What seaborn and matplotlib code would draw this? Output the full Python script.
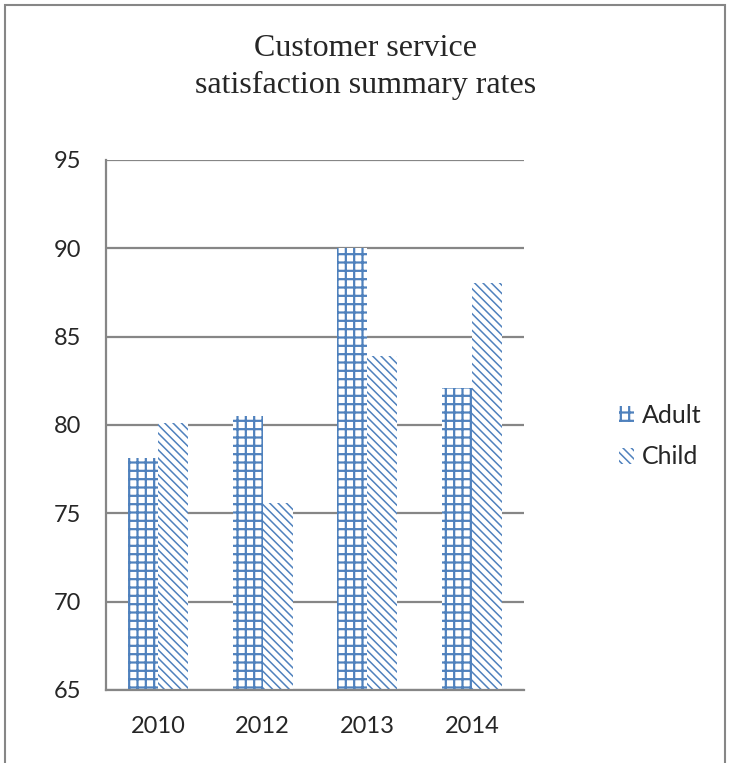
import numpy as np
import pandas as pd
import matplotlib
matplotlib.use('Agg')
import matplotlib.pyplot as plt
import seaborn as sns
from matplotlib.patches import Patch, Rectangle

years = ['2010', '2012', '2013', '2014']
adult = [78.15, 80.5, 90.0, 82.1]
child = [80.1, 75.6, 83.9, 88.05]
series = ['Adult', 'Child']

df = pd.DataFrame({
    'Year': years * 2,
    'Rate': adult + child,
    'Group': ['Adult'] * len(years) + ['Child'] * len(years),
})

sns.set_style('white')
plt.rcParams['font.family'] = ['Lato', 'DejaVu Sans']
plt.rcParams['hatch.linewidth'] = 1.6

blue = '#4F81BD'
grid_col = '#868686'
hatches = ['++', '\\\\\\\\']
hatch_lw = [1.6, 1.1]

fig = plt.figure(figsize=(7.33, 7.63), dpi=100)
ax = fig.add_axes([106 / 733, 1 - 690 / 763, (524 - 106) / 733, (690 - 160) / 763])

sns.barplot(data=df, x='Year', y='Rate', hue='Group', ax=ax,
            palette=['white', 'white'], width=0.575, gap=0, legend=False)

for cont, h, lw in zip(ax.containers, hatches, hatch_lw):
    for bar in cont:
        bar.set_hatch(h)
        bar.set_edgecolor(blue)
        bar.set_linewidth(0)
        if hasattr(bar, 'set_hatch_linewidth'):
            bar.set_hatch_linewidth(lw)

ax.set_ylim(65, 95)
ax.set_yticks(np.arange(65, 96, 5))
ax.set_xlim(-0.5, len(years) - 0.5)
ax.yaxis.grid(True, color=grid_col, linewidth=1.6)
ax.set_axisbelow(True)
ax.set_xlabel('')
ax.set_ylabel('')

for side in ['top', 'right']:
    ax.spines[side].set_visible(False)
for side in ['left', 'bottom']:
    ax.spines[side].set_color(grid_col)
    ax.spines[side].set_linewidth(1.6)

ax.set_xticks(np.arange(-0.5, len(years), 1.0), minor=True)
ax.tick_params(axis='x', which='major', length=0, pad=19, labelsize=17)
ax.tick_params(axis='x', which='minor', length=5, width=1.6, color=grid_col, direction='out')
ax.tick_params(axis='y', length=6, width=1.6, color=grid_col, direction='out', pad=12, labelsize=17)

legend_elements = [Patch(facecolor='white', edgecolor=blue, hatch=h, linewidth=0, label=s)
                   for s, h in zip(series, hatches)]
leg = fig.legend(handles=legend_elements, loc='center left',
                 bbox_to_anchor=(619 / 733, 1 - 436 / 763), frameon=False,
                 fontsize=18, handlelength=0.6, handleheight=0.6, handletextpad=0.3,
                 labelspacing=0.75, borderpad=0, borderaxespad=0)
for patch, lw in zip(leg.get_patches(), hatch_lw):
    if hasattr(patch, 'set_hatch_linewidth'):
        patch.set_hatch_linewidth(lw)

fig.text(366 / 733, 1 - 67 / 763, 'Customer service\nsatisfaction summary rates',
         ha='center', va='center', fontsize=23, family='Liberation Serif',
         linespacing=1.35)

fig.patches.append(Rectangle((5 / 733, -0.05), 720 / 733, 1.05 - 5 / 763,
                             transform=fig.transFigure, fill=False,
                             edgecolor=grid_col, linewidth=1.5))

plt.savefig('out.png', dpi=100)
